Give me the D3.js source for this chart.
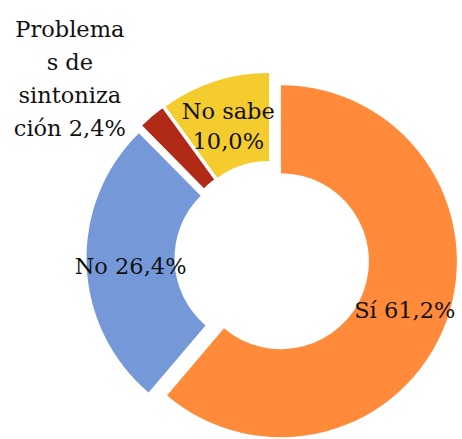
<!DOCTYPE html>
<html>
<head>
<meta charset="utf-8">
<style type="text/css">
body { margin: 0; background: #fff; }
.lbl { font-family: "DejaVu Serif", "Liberation Serif", serif; font-size: 22.5px; fill: #111; }
</style>
<script src="https://d3js.org/d3.v7.min.js"></script>
</head>
<body>
<div class="chart"></div>
<script type="text/javascript">
var categories = ["Sí", "No", "Problemas de sintonización", "No sabe"];
var values = [61.2, 26.4, 2.4, 10.0];
var labelLines = [["Sí 61,2%"], ["No 26,4%"], ["Problema", "s de", "sintoniza", "ción 2,4%"], ["No sabe", "10,0%"]];
var colors = ["#FF8B3A", "#7599D8", "#B02A16", "#F4CC2E"];

var width = 462, height = 439;
var cx = 272, cy = 258;
var outerR = 176, innerR = 88, explode = 9.5;

var svg = d3.select(".chart").append("svg").attr("width", width).attr("height", height);

var pie = d3.pie().sort(null).value(function(d){ return d; });
var arcs = pie(values);
var arc = d3.arc().innerRadius(innerR).outerRadius(outerR);

function offset(d, r) {
	var a = (d.startAngle + d.endAngle) / 2;
	return [Math.sin(a) * r, -Math.cos(a) * r];
}

var g = svg.append("g").attr("transform", "translate(" + cx + "," + cy + ")");

g.selectAll("path").data(arcs).enter().append("path")
	.attr("d", arc)
	.attr("fill", function(d, i){ return colors[i]; })
	.attr("transform", function(d){ var o = offset(d, explode); return "translate(" + o[0] + "," + o[1] + ")"; });

g.selectAll("text").data(arcs).enter().append("text")
	.attr("class", "lbl")
	.attr("text-anchor", "middle")
	.each(function(d, i) {
		var p;
		if (i === 2) {
			// small slice: label placed outside, top-left
			var o = offset(d, explode);
			p = [o[0] - 196, o[1] - 172];
		} else {
			var c = arc.centroid(d), o2 = offset(d, explode);
			p = [c[0] + o2[0], c[1] + o2[1] + 3];
		}
		var lines = labelLines[i];
		var h = i === 2 ? 33 : 30;
		var t = d3.select(this);
		lines.forEach(function(s, k) {
			t.append("tspan").attr("x", p[0])
				.attr("y", p[1] + (k - (lines.length - 1) / 2) * h)
				.attr("dy", "0.35em").text(s);
		});
	});
</script>
</body>
</html>
